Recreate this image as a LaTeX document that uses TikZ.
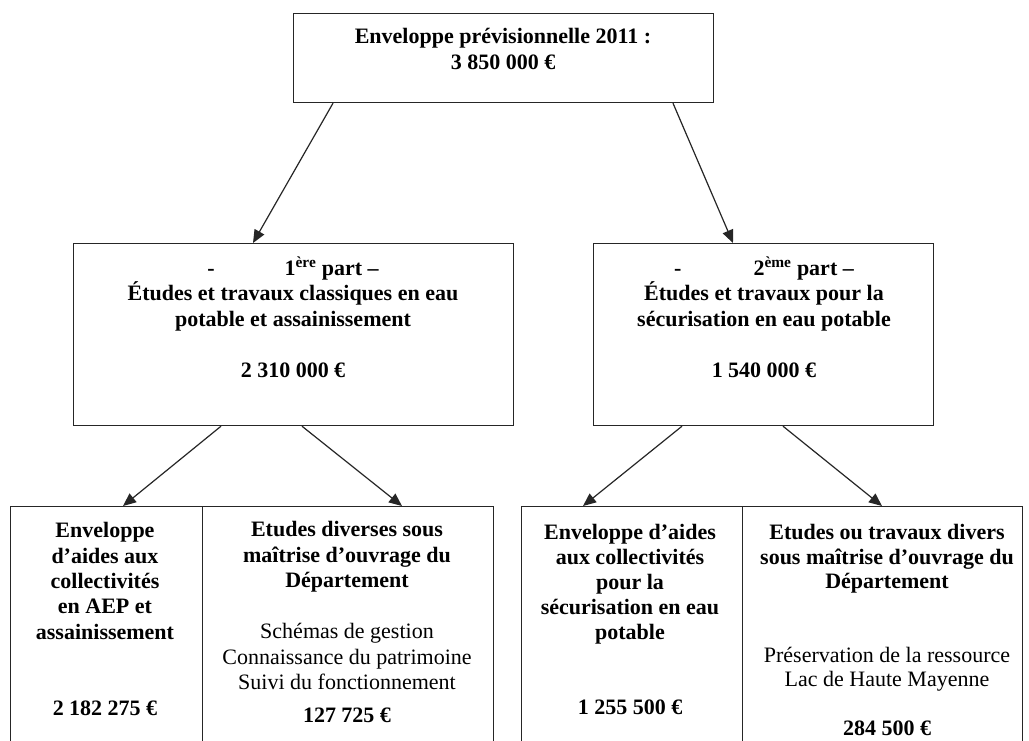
\documentclass[tikz,border=0pt]{standalone}
\usepackage{fontspec}
\setmainfont{Liberation Serif}
\usetikzlibrary{arrows.meta}
\tikzset{
  box/.style={draw=black!85, line width=1.2pt, rectangle, inner sep=0pt, anchor=north west},
  txt/.style={align=center, inner sep=0pt, font=\fontsize{22}{25.5}\selectfont},
  arr/.style={draw=black!85, line width=1.2pt, -{Triangle[length=13pt,width=11pt]}}
}
\begin{document}
\begin{tikzpicture}[x=1pt,y=-1pt]
\clip (0,0) rectangle (1029,740);
\fill[white] (0,0) rectangle (1029,740);
% boxes
\node[box, minimum width=420pt, minimum height=89pt] (top) at (293,13) {};
\node[box, minimum width=440pt, minimum height=182pt] (b1) at (73,243) {};
\node[box, minimum width=340pt, minimum height=182pt] (b2) at (593,243) {};
\node[box, minimum width=192pt, minimum height=260pt] (bla) at (10,506) {};
\node[box, minimum width=291pt, minimum height=260pt] (blb) at (202,506) {};
\node[box, minimum width=221pt, minimum height=260pt] (bra) at (521,506) {};
\node[box, minimum width=280pt, minimum height=260pt] (brb) at (742,506) {};
% texts
\node[txt, font=\fontsize{22}{26}\selectfont\bfseries] (t0) at (503,49)
  {Enveloppe prévisionnelle 2011 :\\3 850 000 €};
\node[txt, font=\fontsize{22}{25.5}\selectfont\bfseries] (t1) at (293,317)
  {-\hspace{70pt}1\textsuperscript{ère} part –\\Études et travaux classiques en eau\\potable et assainissement\\[25.5pt]2 310 000 €};
\node[txt, font=\fontsize{22}{25.5}\selectfont\bfseries] (t2) at (764,317)
  {-\hspace{72pt}2\textsuperscript{ème} part –\\Études et travaux pour la\\sécurisation en eau potable\\[25.5pt]1 540 000 €};
\node[txt, font=\fontsize{22}{25.3}\selectfont\bfseries] (t3) at (105,619)
  {Enveloppe\\d’aides aux\\collectivités\\en AEP et\\assainissement\\[50.6pt]2 182 275 €};
\node[txt] (t4) at (347,622)
  {\textbf{Etudes diverses sous}\\\textbf{maîtrise d’ouvrage du}\\\textbf{Département}\\[25.5pt]Schémas de gestion\\Connaissance du patrimoine\\Suivi du fonctionnement\\[7pt]\textbf{127 725 €}};
\node[txt, font=\fontsize{22}{25}\selectfont\bfseries] (t5) at (630,619.5)
  {Enveloppe d’aides\\aux collectivités\\pour la\\sécurisation en eau\\potable\\[50pt]1 255 500 €};
\node[txt, font=\fontsize{22}{24.5}\selectfont] (t6) at (887,630)
  {\textbf{Etudes ou travaux divers}\\\textbf{sous maîtrise d’ouvrage du}\\\textbf{Département}\\[49pt]Préservation de la ressource\\Lac de Haute Mayenne\\[24.5pt]\textbf{284 500 €}};
% arrows
\draw[arr] ([xshift=40pt]top.south west) -- ([xshift=180pt]b1.north west);
\draw[arr] ([xshift=380pt]top.south west) -- ([xshift=140pt]b2.north west);
\draw[arr] ([xshift=148pt]b1.south west) -- ([xshift=113pt]bla.north west);
\draw[arr] ([xshift=229pt]b1.south west) -- ([xshift=200pt]blb.north west);
\draw[arr] ([xshift=89pt]b2.south west) -- ([xshift=62pt]bra.north west);
\draw[arr] ([xshift=190pt]b2.south west) -- ([xshift=140pt]brb.north west);
\end{tikzpicture}
\end{document}
